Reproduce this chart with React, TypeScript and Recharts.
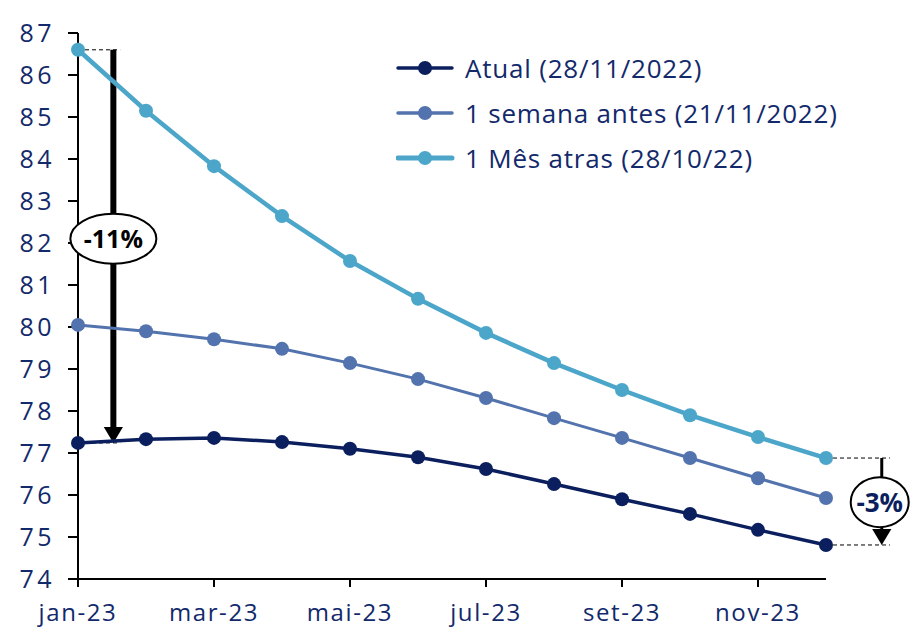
import React from 'react';
import { LineChart, Line, XAxis, YAxis, ReferenceLine, ReferenceDot, Legend } from 'recharts';

const months = ['jan-23', 'fev-23', 'mar-23', 'abr-23', 'mai-23', 'jun-23', 'jul-23', 'ago-23', 'set-23', 'out-23', 'nov-23', 'dez-23'];
const atual = [77.24, 77.33, 77.36, 77.26, 77.1, 76.9, 76.62, 76.26, 75.9, 75.55, 75.17, 74.81];
const semanaAntes = [80.05, 79.9, 79.71, 79.48, 79.14, 78.76, 78.31, 77.83, 77.36, 76.88, 76.4, 75.93];
const mesAtras = [86.6, 85.15, 83.83, 82.64, 81.57, 80.67, 79.86, 79.14, 78.5, 77.9, 77.38, 76.88];
const yTicks = [74, 75, 76, 77, 78, 79, 80, 81, 82, 83, 84, 85, 86, 87];
const xTicks = [0, 2, 4, 6, 8, 10];

const NAVY = '#0b1f5e';
const MID = '#5273ad';
const LIGHT = '#4ba6ca';
const TEXT = '#12296b';
const FONT = '"Open Sans", sans-serif';

const data = months.map((m, i) => ({
  idx: i,
  month: m,
  atual: atual[i],
  semana: semanaAntes[i],
  mes: mesAtras[i],
}));

const legendItems = [
  { label: 'Atual (28/11/2022)', color: NAVY, width: 3.5 },
  { label: '1 semana antes (21/11/2022)', color: MID, width: 3.5 },
  { label: '1 Mês atras (28/10/22)', color: LIGHT, width: 5 },
];

function LegendBox() {
  return (
    <div style={{ fontFamily: FONT }}>
      {legendItems.map((it) => (
        <div key={it.label} style={{ display: 'flex', alignItems: 'center', height: 45 }}>
          <svg width={60} height={20} style={{ marginRight: 9 }}>
            <line x1={2} y1={10} x2={56} y2={10} stroke={it.color} strokeWidth={it.width} strokeLinecap="round" />
            <circle cx={29} cy={10} r={7} fill={it.color} />
          </svg>
          <span style={{ fontSize: 26, letterSpacing: 0.8, color: TEXT, whiteSpace: 'nowrap' }}>{it.label}</span>
        </div>
      ))}
    </div>
  );
}

// arrow drawn on a vertical reference segment
const arrowShape = (lineWidth: number, head: number) => (props: any) => {
  const { x1, y1, x2, y2 } = props;
  return (
    <g>
      <line x1={x1} y1={y1} x2={x2} y2={y2 - head} stroke="#000" strokeWidth={lineWidth} />
      <polygon points={`${x2 - head * 0.6},${y2 - head} ${x2 + head * 0.6},${y2 - head} ${x2},${y2}`} fill="#000" />
    </g>
  );
};

const bubble = (label: string, rx: number, ry: number, color: string, size: number) => (props: any) => {
  const { cx, cy } = props;
  return (
    <g>
      <ellipse cx={cx} cy={cy} rx={rx} ry={ry} fill="#fff" stroke="#000" strokeWidth={2} />
      <text x={cx} y={cy + size * 0.36} textAnchor="middle" fontFamily={FONT} fontWeight={700} fontSize={size} fill={color}>
        {label}
      </text>
    </g>
  );
};

const xTickStyle = { fill: TEXT, fontSize: 24, fontFamily: FONT, letterSpacing: 1.6 };
const yTickStyle = { fill: TEXT, fontSize: 25, fontFamily: FONT, letterSpacing: 3.5 };

export default function App() {
  return (
    <div style={{ position: 'absolute', top: 0, left: 0 }}>
      <LineChart width={910} height={629} data={data} margin={{ top: 33, right: 84, bottom: 0, left: 18 }}>
        <XAxis
          dataKey="idx"
          type="number"
          domain={[0, 11]}
          ticks={xTicks}
          interval={0}
          tickFormatter={(v: number) => months[v]}
          axisLine={{ stroke: '#000', strokeWidth: 2 }}
          tickLine={{ stroke: '#000', strokeWidth: 2 }}
          tickSize={8}
          tickMargin={17}
          height={50}
          tick={xTickStyle}
        />
        <YAxis
          domain={[74, 87]}
          ticks={yTicks}
          interval={0}
          axisLine={{ stroke: '#000', strokeWidth: 2 }}
          tickLine={{ stroke: '#000', strokeWidth: 2 }}
          tickSize={10}
          tickMargin={13}
          width={60}
          tick={yTickStyle}
        />
        <Legend
          layout="vertical"
          verticalAlign="middle"
          align="center"
          content={() => <LegendBox />}
          wrapperStyle={{ top: 45, left: 396, width: 500 }}
        />
        <ReferenceLine segment={[{ x: 0, y: 86.6 }, { x: 0.62, y: 86.6 }]} stroke="#000" strokeDasharray="4 3" ifOverflow="visible" />
        <ReferenceLine segment={[{ x: 0, y: 77.24 }, { x: 0.62, y: 77.24 }]} stroke="#000" strokeDasharray="4 3" ifOverflow="visible" />
        <ReferenceLine segment={[{ x: 11, y: 76.88 }, { x: 11.94, y: 76.88 }]} stroke="#000" strokeDasharray="4 3" ifOverflow="visible" />
        <ReferenceLine segment={[{ x: 11, y: 74.81 }, { x: 11.94, y: 74.81 }]} stroke="#000" strokeDasharray="4 3" ifOverflow="visible" />
        <ReferenceLine
          segment={[{ x: 0.52, y: 86.6 }, { x: 0.52, y: 77.24 }]}
          ifOverflow="visible"
          shape={arrowShape(6, 16)}
        />
        <ReferenceLine
          segment={[{ x: 11.82, y: 76.88 }, { x: 11.82, y: 74.81 }]}
          ifOverflow="visible"
          shape={arrowShape(3, 16)}
        />
        <Line dataKey="atual" stroke={NAVY} strokeWidth={3.5} dot={{ r: 7, fill: NAVY, stroke: NAVY, strokeWidth: 0 }} isAnimationActive={false} />
        <Line dataKey="semana" stroke={MID} strokeWidth={3} dot={{ r: 7, fill: MID, stroke: MID, strokeWidth: 0 }} isAnimationActive={false} />
        <Line dataKey="mes" stroke={LIGHT} strokeWidth={4.5} dot={{ r: 7, fill: LIGHT, stroke: LIGHT, strokeWidth: 0 }} isAnimationActive={false} />
        <ReferenceDot x={0.52} y={82.1} ifOverflow="visible" shape={bubble('-11%', 43, 25, '#000', 25)} />
        <ReferenceDot x={11.79} y={75.83} ifOverflow="visible" shape={bubble('-3%', 29, 25, NAVY, 26)} />
      </LineChart>
    </div>
  );
}
